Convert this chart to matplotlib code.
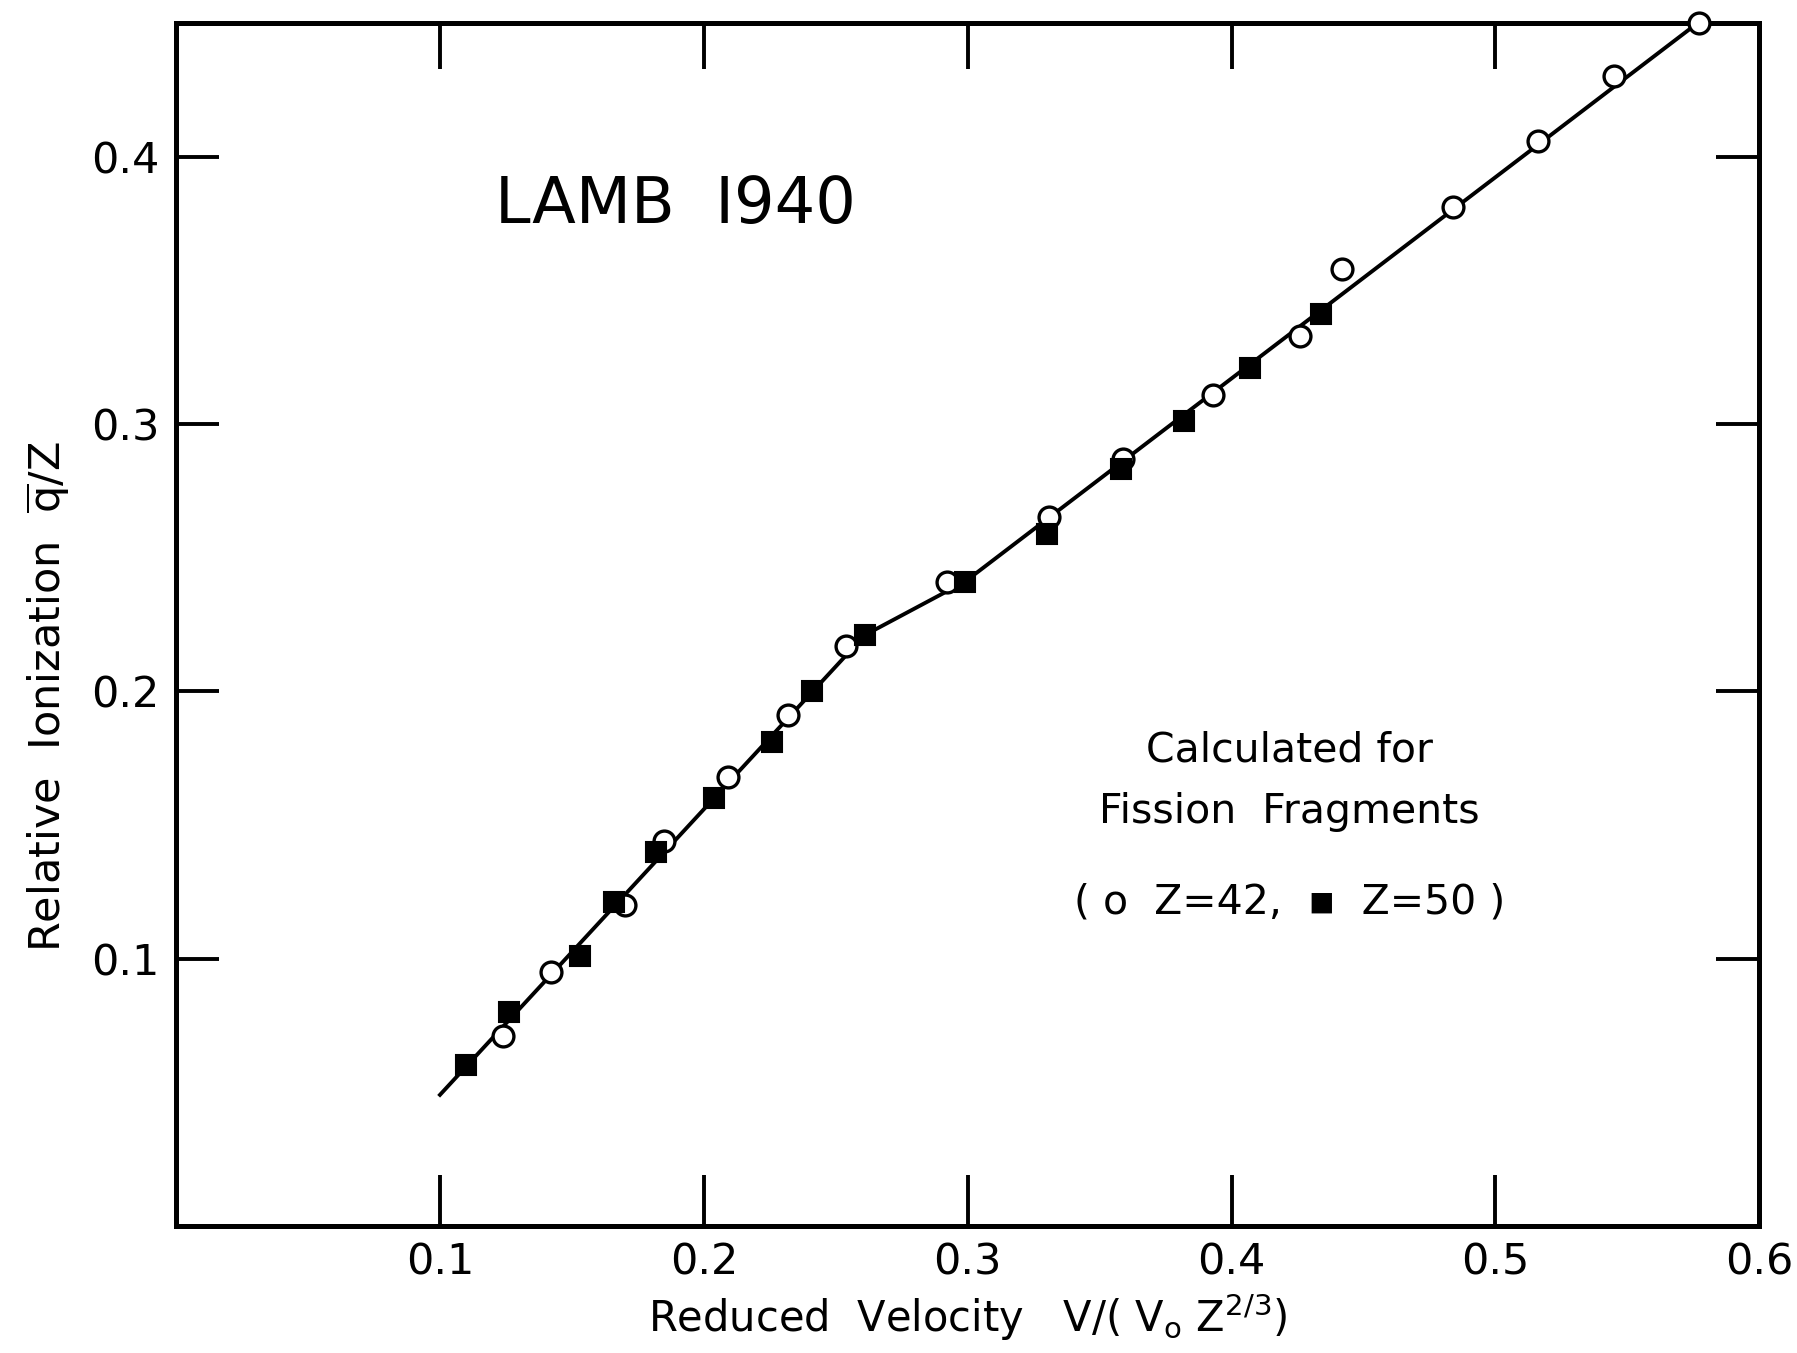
import matplotlib
matplotlib.use("Agg")
import matplotlib.pyplot as plt

# Z = 42 (open circles)
z42_x = [0.124, 0.142, 0.170, 0.185, 0.209, 0.232, 0.254, 0.292, 0.331, 0.359,
         0.393, 0.426, 0.442, 0.484, 0.516, 0.545, 0.577]
z42_y = [0.071, 0.095, 0.120, 0.144, 0.168, 0.191, 0.217, 0.241, 0.265, 0.287,
         0.311, 0.333, 0.358, 0.381, 0.406, 0.430, 0.450]

# Z = 50 (filled squares)
z50_x = [0.110, 0.126, 0.153, 0.166, 0.182, 0.204, 0.226, 0.241, 0.261, 0.299,
         0.330, 0.358, 0.382, 0.407, 0.434]
z50_y = [0.060, 0.080, 0.101, 0.121, 0.140, 0.160, 0.181, 0.200, 0.221, 0.241,
         0.259, 0.283, 0.301, 0.321, 0.341]

# drawn curve through the calculated points
curve_x = [0.100, 0.261, 0.299, 0.578]
curve_y = [0.049, 0.221, 0.241, 0.451]

xticks = [0.1, 0.2, 0.3, 0.4, 0.5, 0.6]
xtick_labels = ["0.1", "0.2", "0.3", "0.4", "0.5", "0.6"]
yticks = [0.1, 0.2, 0.3, 0.4]
ytick_labels = ["0.1", "0.2", "0.3", "0.4"]

plt.rcParams['font.family'] = ['DejaVu Sans']
plt.rcParams['mathtext.fontset'] = 'dejavusans'

fig = plt.figure(figsize=(17.97, 13.53), dpi=100)
ax = fig.add_axes([0.098, 0.094, 0.881, 0.889])

ax.plot(curve_x, curve_y, color='black', lw=2.8, zorder=2)
ax.plot(z42_x, z42_y, 'o', ms=15, mfc='white', mec='black', mew=2.4, zorder=3,
        clip_on=False)
ax.plot(z50_x, z50_y, 's', ms=14.5, mfc='black', mec='black', mew=1.5, zorder=4)

ax.set_xlim(0, 0.6)
ax.set_ylim(0, 0.45)

for s in ax.spines.values():
    s.set_linewidth(3.6)

ax.set_xticks(xticks)
ax.set_xticklabels(xtick_labels)
ax.set_yticks(yticks)
ax.set_yticklabels(ytick_labels)
ax.tick_params(axis='x', direction='in', length=37, width=2.8, labelsize=31, pad=11)
ax.tick_params(axis='y', direction='in', length=31, width=2.8, labelsize=31, pad=12,
               right=True)
# the 0.6 tick sits in the corner, hide its mark
ax.xaxis.get_major_ticks()[-1].tick1line.set_visible(False)

top = ax.secondary_xaxis('top')
top.set_xticks(xticks[:-1])
top.tick_params(direction='in', length=33, width=2.8, labeltop=False)
top.spines['top'].set_linewidth(3.6)

ax.set_xlabel(r"Reduced  Velocity   V/( V$_\mathregular{o}$ Z$^{\mathregular{2/3}}$)",
              fontsize=30, labelpad=6)
ax.set_ylabel(r"Relative  Ionization  $\overline{\mathregular{q}}$/Z", fontsize=31)
ax.yaxis.set_label_coords(-0.066, 0.44)

ax.text(0.121, 0.382, "LAMB  I940", fontsize=46, ha='left', va='center')
ax.text(0.422, 0.178, "Calculated for", fontsize=29.5, ha='center', va='center')
ax.text(0.422, 0.155, "Fission  Fragments", fontsize=29.5, ha='center', va='center')
ax.text(0.422, 0.121, "( o  Z=42,  \u25aa  Z=50 )", fontsize=29.5, ha='center',
        va='center')

fig.savefig("out.png", dpi=100)
